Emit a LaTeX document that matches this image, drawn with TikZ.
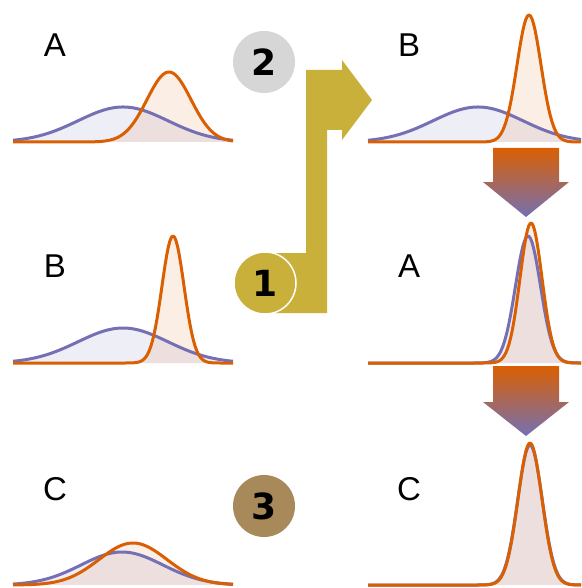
\documentclass[tikz,border=0pt]{standalone}
\usepackage{fontspec}
\setmainfont{Liberation Sans}
\newfontfamily\badgefont{DejaVu Sans}
\usetikzlibrary{positioning}
\definecolor{curveorange}{HTML}{D95F02}
\definecolor{curveblue}{HTML}{7570B3}
\definecolor{arrowgold}{RGB}{200,176,58}
\definecolor{badgegray}{RGB}{214,214,214}
\definecolor{badgebrown}{RGB}{168,138,90}

\begin{document}
\begin{tikzpicture}[x=1pt,y=-1pt,
  bluefill/.style={fill=curveblue,fill opacity=0.12},
  orangefill/.style={fill=curveorange,fill opacity=0.1},
  bluecurve/.style={draw=curveblue,line width=3pt,line join=round},
  orangecurve/.style={draw=curveorange,line width=3pt,line join=round},
  panel/.style={anchor=base,inner sep=0pt,font=\fontsize{33}{40}\selectfont},
  badge/.style={circle,minimum size=62pt,inner sep=0pt,
    font=\badgefont\bfseries\fontsize{36}{40}\selectfont},
  update/.style={top color=curveorange,bottom color=curveblue}]
\useasboundingbox (0,0) rectangle (581,588);

% Step 1 passes the updated belief on to the next comparison.
\fill[arrowgold] (265,253) -- (306,253) -- (306,70) -- (342,70) -- (342,60)
  -- (372,100) -- (342,140) -- (342,130) -- (327,130) -- (327,313)
  -- (265,313) -- cycle;

% Prior to posterior, twice down the right column.
\shade[update] (493,148) -- (559,148) -- (559,182) -- (569,182) -- (526,217)
  -- (483,182) -- (493,182) -- cycle;
\shade[update] (493,366) -- (559,366) -- (559,402) -- (569,402) -- (526,436)
  -- (483,402) -- (493,402) -- cycle;

% Each row: prior (blue) and likelihood/posterior (orange) as bumps.
\foreach \xa/\xb/\yb/\bc/\bs/\bh/\oc/\os/\oh in {
  13/233/142/123/45/35/169/22/70,
  368/581/142/478/45/35/529/12/127,
  13/233/363/123/45/35/173/11/127,
  368/581/363/528/12.5/127/531/11/140,
  13/233/585/122/41/33/133/34/42,
  368/581/585/530/12.3/140/530/12/142}
{
  \fill[bluefill] (\xa,\yb) -- plot[domain=\xa:\xb,samples=140]
    (\x,{\yb-\bh*exp(-0.5*((\x-\bc)/\bs)^2)}) -- (\xb,\yb) -- cycle;
  \fill[orangefill] (\xa,\yb) -- plot[domain=\xa:\xb,samples=140]
    (\x,{\yb-\oh*exp(-0.5*((\x-\oc)/\os)^2)}) -- (\xb,\yb) -- cycle;
  \draw[bluecurve] plot[domain=\xa:\xb,samples=140]
    (\x,{\yb-\bh*exp(-0.5*((\x-\bc)/\bs)^2)});
  \draw[orangecurve] plot[domain=\xa:\xb,samples=140]
    (\x,{\yb-\oh*exp(-0.5*((\x-\oc)/\os)^2)});
}

\node[panel] (leftA) at (55,57) {A};
\node[panel] (rightB) at (409,57) {B};
\node[panel] (leftB) at (55,277) {B};
\node[panel] (rightA) at (409,277) {A};
\node[panel] (leftC) at (55,500) {C};
\node[panel] (rightC) at (409,500) {C};

\node[badge,fill=badgegray] (stage2) at (264,62) {2};
\node[badge,fill=arrowgold,draw=white,line width=1.5pt] (stage1) at (265,283) {1};
\node[badge,fill=badgebrown] (stage3) at (264,506) {3};
\end{tikzpicture}
\end{document}
